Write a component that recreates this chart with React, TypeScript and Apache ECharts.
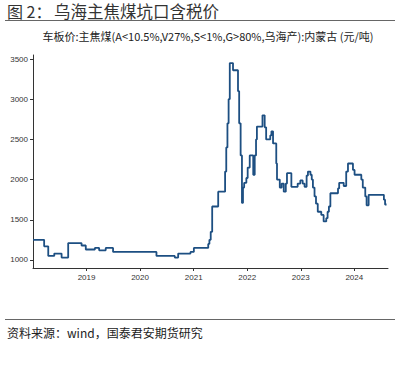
import React, { useEffect, useRef } from "react";
import * as echarts from "echarts";

const TITLE_NUM = "图 2：";
const TITLE = "乌海主焦煤坑口含税价";
const SUBTITLE = "车板价:主焦煤(A<10.5%,V27%,S<1%,G>80%,乌海产):内蒙古 (元/吨)";
const SOURCE = "资料来源：wind，国泰君安期货研究";

const yTicks = [1000, 1500, 2000, 2500, 3000, 3500];
const yearTicks = ["2019", "2020", "2021", "2022", "2023", "2024"];

// change points: date, new price (step holds until next point)
const dates = [
  "2018-01-01", "2018-03-18", "2018-04-15", "2018-05-26", "2018-07-15", "2018-08-29",
  "2018-11-28", "2018-12-27", "2019-02-27", "2019-03-28", "2019-05-12", "2019-07-01",
  "2020-04-22", "2020-08-25", "2020-09-17", "2020-12-10", "2021-01-02", "2021-04-10",
  "2021-04-18", "2021-04-27", "2021-05-07", "2021-06-17", "2021-08-03", "2021-08-11",
  "2021-08-19", "2021-08-27", "2021-09-04", "2021-09-26", "2021-10-30", "2021-11-07",
  "2021-11-17", "2021-11-26", "2021-12-03", "2021-12-11", "2021-12-26", "2022-01-04",
  "2022-01-18", "2022-02-11", "2022-02-21", "2022-03-02", "2022-03-08", "2022-04-15",
  "2022-04-30", "2022-05-10", "2022-06-07", "2022-06-15", "2022-06-26", "2022-07-18",
  "2022-07-23", "2022-08-11", "2022-08-24", "2022-09-07", "2022-09-21", "2022-09-29",
  "2022-10-29", "2022-12-11", "2022-12-29", "2023-01-14", "2023-01-27", "2023-02-10",
  "2023-02-19", "2023-03-08", "2023-03-17", "2023-03-25", "2023-04-05", "2023-04-15",
  "2023-04-27", "2023-05-21", "2023-06-06", "2023-06-24", "2023-07-03", "2023-07-12",
  "2023-07-22", "2023-09-12", "2023-09-20", "2023-10-21", "2023-11-07", "2023-11-19",
  "2023-12-23", "2024-01-03", "2024-02-18", "2024-02-28", "2024-03-16", "2024-03-25",
  "2024-04-08", "2024-07-21", "2024-07-29", "2024-08-08",
];
const prices = [
  1250, 1170, 1050, 1080, 1030, 1210,
  1180, 1130, 1150, 1120, 1150, 1100,
  1050, 1030, 1080, 1100, 1150, 1200,
  1250, 1350, 1665, 1850, 2100, 2400,
  2700, 3000, 3450, 3360, 3100, 2700,
  2300, 1710, 1900, 1960, 2020, 2150,
  2300, 2060, 2300, 2500, 2660, 2800,
  2650, 2500, 2550, 2600, 2450, 2200,
  2000, 1900, 1950, 1850, 1950, 2080,
  1910, 1950, 1990, 1950, 1910, 2050,
  2100, 2060, 2000, 1900, 1790, 1700,
  1600, 1560, 1480, 1520, 1600, 1665,
  1830, 1890, 1960, 1920, 2100, 2200,
  2120, 2060, 2000, 1900, 1790, 1680,
  1810, 1750, 1690, 1690,
];

const ts = (d: string) => new Date(d + "T00:00:00Z").getTime();

export default function App() {
  const ref = useRef<HTMLDivElement>(null);
  useEffect(() => {
    if (!ref.current) return;
    const chart = echarts.init(ref.current, null, { renderer: "svg" });
    const yearVals = yearTicks.map((y) => ts(y + "-01-01"));
    const font = "'Liberation Sans', Arial, sans-serif";
    const cjk = "'Noto Sans CJK SC', sans-serif";
    chart.setOption({
      animation: false,
      backgroundColor: "#ffffff",
      grid: { left: 33, right: 15, top: 55, bottom: 117 },
      xAxis: {
        type: "value",
        min: ts("2018-01-01"),
        max: ts("2024-08-18"),
        splitLine: { show: false },
        axisLine: { lineStyle: { color: "#333", width: 1 } },
        axisTick: { show: true, length: 3, lineStyle: { color: "#333" }, customValues: yearVals },
        axisLabel: {
          customValues: yearVals,
          formatter: (v: number) => String(new Date(v).getUTCFullYear()),
          fontSize: 8,
          color: "#333",
          fontFamily: font,
          margin: 5,
        },
      },
      yAxis: {
        type: "value",
        min: 900,
        max: 3550,
        splitLine: { show: false },
        axisLine: { show: true, lineStyle: { color: "#333", width: 1 } },
        axisTick: { show: true, length: 3, lineStyle: { color: "#333" }, customValues: yTicks },
        axisLabel: {
          customValues: yTicks,
          formatter: (v: number) => String(v),
          fontSize: 8,
          color: "#333",
          fontFamily: font,
          margin: 5,
        },
      },
      series: [
        {
          type: "line",
          step: "end",
          showSymbol: false,
          data: dates.map((d, i) => [ts(d), prices[i]]),
          lineStyle: { color: "#1d4f82", width: 1.8 },
          itemStyle: { color: "#1d4f82" },
        },
      ],
      graphic: [
        {
          type: "text",
          x: 7,
          y: 11,
          style: {
            text: TITLE_NUM,
            fontSize: 16,
            fill: "#333",
            fontFamily: cjk,
            verticalAlign: "middle",
          },
        },
        {
          type: "text",
          x: 54,
          y: 11,
          style: {
            text: TITLE,
            fontSize: 16.5,
            fill: "#333",
            fontFamily: cjk,
            verticalAlign: "middle",
          },
        },
        {
          type: "line",
          shape: { x1: 5, y1: 20.5, x2: 395, y2: 20.5 },
          style: { stroke: "#666", lineWidth: 1 },
        },
        {
          type: "text",
          x: 208,
          y: 36,
          style: {
            text: SUBTITLE,
            fontSize: 11,
            fill: "#222",
            fontFamily: cjk,
            align: "center",
            verticalAlign: "middle",
          },
        },
        {
          type: "line",
          shape: { x1: 5, y1: 319.5, x2: 395, y2: 319.5 },
          style: { stroke: "#666", lineWidth: 1 },
        },
        {
          type: "text",
          x: 7,
          y: 332,
          style: { text: SOURCE, fontSize: 12, fill: "#222", fontFamily: cjk, verticalAlign: "middle" },
        },
      ],
    });
    return () => chart.dispose();
  }, []);
  return (
    <div
      ref={ref}
      style={{ position: "fixed", left: 0, top: 0, width: 403, height: 385 }}
    />
  );
}
